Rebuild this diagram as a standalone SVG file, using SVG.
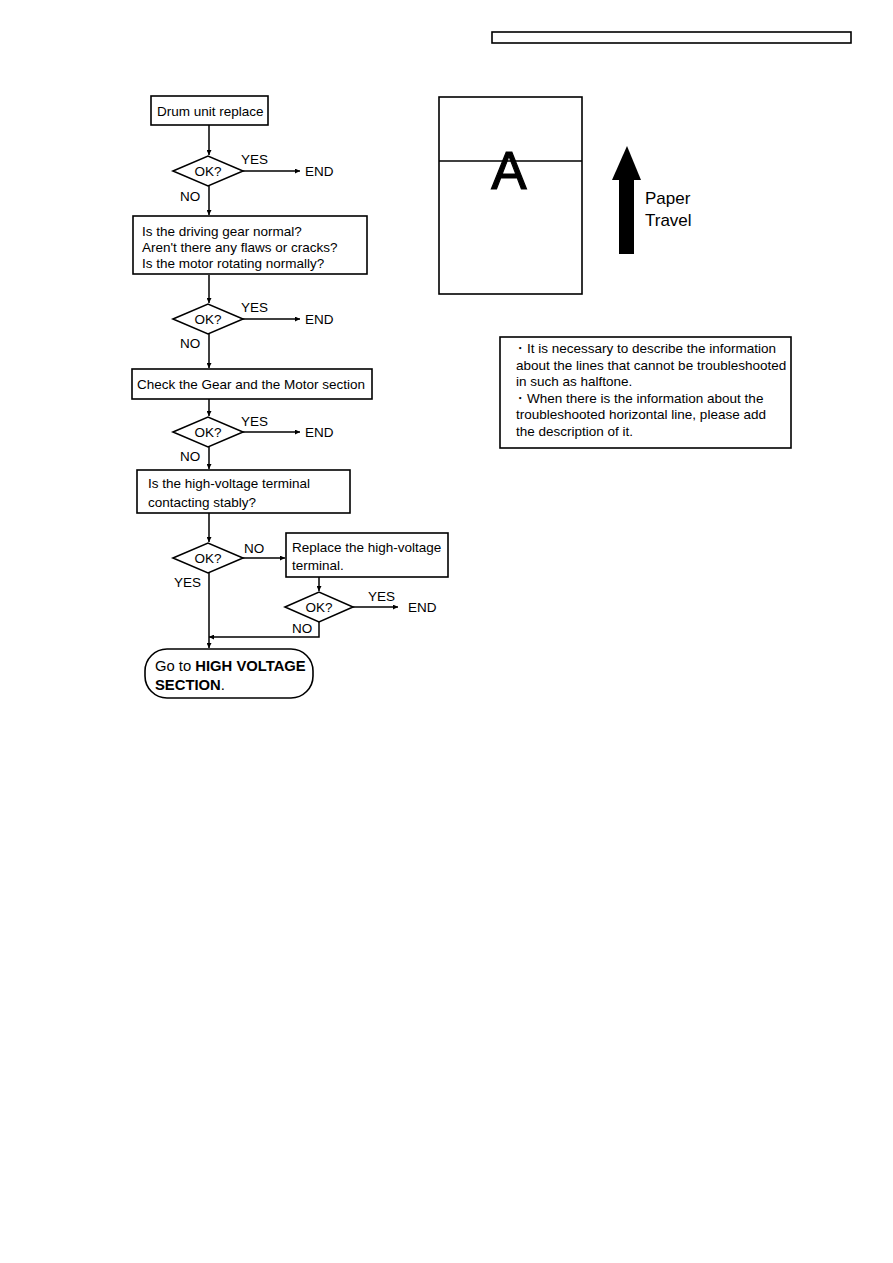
<svg xmlns="http://www.w3.org/2000/svg" width="893" height="1263" viewBox="0 0 893 1263">
<style>
.box{fill:#fff;stroke:#000;stroke-width:1.6}
.ln{fill:none;stroke:#000;stroke-width:1.5}
.t{font-family:"Liberation Sans",Arial,sans-serif;font-size:13.5px;fill:#000}
.b{font-weight:bold}
</style>
<defs>
<marker id="ah" viewBox="0 0 10 10" refX="10" refY="5" markerWidth="8" markerHeight="5" markerUnits="userSpaceOnUse" orient="auto">
<path d="M0,0 L10,5 L0,10 z" fill="#000"/>
</marker>
</defs>
<rect x="0" y="0" width="893" height="1263" fill="#fff"/>
<rect id="header" x="492" y="32" width="359" height="11" class="box"/>

<g id="connectors">
<path class="ln" d="M209,125 V155" marker-end="url(#ah)"/>
<path class="ln" d="M243,171 H300" marker-end="url(#ah)"/>
<path class="ln" d="M209,186 V215" marker-end="url(#ah)"/>
<path class="ln" d="M209,275 V303" marker-end="url(#ah)"/>
<path class="ln" d="M243,319 H300" marker-end="url(#ah)"/>
<path class="ln" d="M209,334 V368" marker-end="url(#ah)"/>
<path class="ln" d="M209,399 V416" marker-end="url(#ah)"/>
<path class="ln" d="M243,432 H300" marker-end="url(#ah)"/>
<path class="ln" d="M209,447 V469" marker-end="url(#ah)"/>
<path class="ln" d="M209,513 V542" marker-end="url(#ah)"/>
<path class="ln" d="M243,558 H285" marker-end="url(#ah)"/>
<path class="ln" d="M319,577 V591" marker-end="url(#ah)"/>
<path class="ln" d="M353,607 H398" marker-end="url(#ah)"/>
<path class="ln" d="M319,621 V637 H209" marker-end="url(#ah)"/>
<path class="ln" d="M209,572 V648" marker-end="url(#ah)"/>
</g>

<g id="n1"><rect x="151" y="96" width="117" height="29" class="box"/><text class="t" x="157" y="116">Drum unit replace</text></g>

<g id="d1"><polygon points="173,171 208,156 243,171 208,186" class="box"/><text class="t" x="208" y="176" text-anchor="middle">OK?</text></g>
<text class="t" x="241" y="164">YES</text>
<text class="t" x="305" y="176">END</text>
<text class="t" x="180" y="201">NO</text>

<g id="n2"><rect x="133" y="216" width="234" height="58" class="box"/>
<text class="t" x="142" y="236">Is the driving gear normal?</text>
<text class="t" x="142" y="252">Aren't there any flaws or cracks?</text>
<text class="t" x="142" y="268">Is the motor rotating normally?</text></g>

<g id="d2"><polygon points="173,319 208,304 243,319 208,334" class="box"/><text class="t" x="208" y="324" text-anchor="middle">OK?</text></g>
<text class="t" x="241" y="312">YES</text>
<text class="t" x="305" y="324">END</text>
<text class="t" x="180" y="348">NO</text>

<g id="n3"><rect x="132" y="369" width="240" height="30" class="box"/><text class="t" x="137" y="389">Check the Gear and the Motor section</text></g>

<g id="d3"><polygon points="173,432 208,417 243,432 208,447" class="box"/><text class="t" x="208" y="437" text-anchor="middle">OK?</text></g>
<text class="t" x="241" y="426">YES</text>
<text class="t" x="305" y="437">END</text>
<text class="t" x="180" y="461">NO</text>

<g id="n4"><rect x="137" y="470" width="213" height="43" class="box"/>
<text class="t" x="148" y="488">Is the high-voltage terminal</text>
<text class="t" x="148" y="507">contacting stably?</text></g>

<g id="d4"><polygon points="173,558 208,543 243,558 208,573" class="box"/><text class="t" x="208" y="563" text-anchor="middle">OK?</text></g>
<text class="t" x="244" y="553">NO</text>
<text class="t" x="174" y="587">YES</text>

<g id="n5"><rect x="286" y="533" width="162" height="44" class="box"/>
<text class="t" x="292" y="552">Replace the high-voltage</text>
<text class="t" x="292" y="570">terminal.</text></g>

<g id="d5"><polygon points="285,607 319,592 353,607 319,622" class="box"/><text class="t" x="319" y="612" text-anchor="middle">OK?</text></g>
<text class="t" x="368" y="601">YES</text>
<text class="t" x="408" y="612">END</text>
<text class="t" x="292" y="633">NO</text>

<g id="n6"><rect x="145" y="649" width="168" height="49" rx="22" ry="22" class="box"/>
<text class="t" x="155" y="671" style="font-size:14.8px">Go to <tspan class="b">HIGH VOLTAGE</tspan></text>
<text class="t" x="155" y="690" style="font-size:14.8px"><tspan class="b">SECTION</tspan>.</text></g>

<g id="paper">
<rect x="439" y="97" width="143" height="197" class="box"/>
<line x1="439" y1="161" x2="582" y2="161" stroke="#000" stroke-width="1.6"/>
<text x="509" y="189" text-anchor="middle" stroke="#000" stroke-width="1.2" style="font-family:'Liberation Sans',Arial,sans-serif;font-size:53px">A</text>
</g>

<g id="travel">
<rect x="619" y="178" width="15" height="76" fill="#000"/>
<polygon points="627,146 641,180 612,180" fill="#000"/>
<text x="645" y="204" style="font-family:'Liberation Sans',Arial,sans-serif;font-size:17px">Paper</text>
<text x="645" y="226" style="font-family:'Liberation Sans',Arial,sans-serif;font-size:17px">Travel</text>
</g>

<g id="note">
<rect x="500" y="337" width="291" height="111" class="box"/>
<text class="t" x="513" y="353">・It is necessary to describe the information</text>
<text class="t" x="516" y="370">about the lines that cannot be troubleshooted</text>
<text class="t" x="516" y="386">in such as halftone.</text>
<text class="t" x="513" y="403">・When there is the information about the</text>
<text class="t" x="516" y="419">troubleshooted horizontal line, please add</text>
<text class="t" x="516" y="436">the description of it.</text>
</g>
</svg>
